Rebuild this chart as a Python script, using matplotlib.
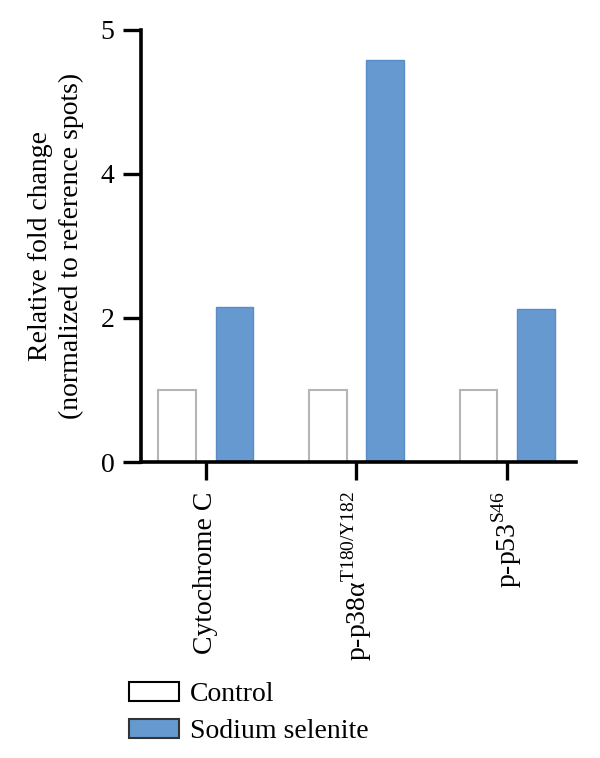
import matplotlib

matplotlib.use("Agg")
import matplotlib.pyplot as plt
import numpy as np
from matplotlib.patches import Patch

categories = ["Cytochrome C", r"p-p38α$^{\mathregular{T180/Y182}}$", r"p-p53$^{\mathregular{S46}}$"]
control = [1.0, 1.0, 1.0]
selenite = [2.15, 5.58, 2.12]
ytick_vals = [0, 2, 4, 6]
ytick_labels = ["0", "2", "4", "5"]

plt.rcParams["font.family"] = ["Liberation Serif", "DejaVu Serif"]
plt.rcParams["mathtext.fontset"] = "custom"
plt.rcParams["mathtext.rm"] = "Liberation Serif"

blue = "#6699cf"
fs = 20

fig = plt.figure(figsize=(6, 7.58), dpi=100)
ax = fig.add_axes([0.235, 0.3905, 0.725, 0.57])

x = np.arange(len(categories))
w = 0.25
off = 0.19
ax.bar(x - off, control, w, color="white", edgecolor="#b5b5b5", linewidth=1.5, zorder=2)
ax.bar(x + off, selenite, w, color=blue, edgecolor="#5a8cc8", linewidth=1.0, zorder=2)

ax.set_xlim(-0.43, 2.457)
ax.set_ylim(0, 6)
ax.set_yticks(ytick_vals)
ax.set_yticklabels(ytick_labels)
ax.set_xticks(x)
ax.set_xticklabels(categories, rotation=90, va="top", ha="center")

for s in ["top", "right"]:
    ax.spines[s].set_visible(False)
for s in ["left", "bottom"]:
    ax.spines[s].set_linewidth(2.6)
    ax.spines[s].set_zorder(3)
ax.tick_params(axis="both", labelsize=fs, width=2.4, length=13, direction="out")
ax.tick_params(axis="x", pad=8)
ax.tick_params(axis="y", pad=6)

ax.set_ylabel("Relative fold change\n(normalized to reference spots)", fontsize=fs, labelpad=12, linespacing=1.3)

handles = [
    Patch(facecolor="white", edgecolor="black", linewidth=1.5, label="Control"),
    Patch(facecolor=blue, edgecolor="#333333", linewidth=1.5, label="Sodium selenite"),
]
fig.legend(handles=handles, loc="upper left", bbox_to_anchor=(0.215, 0.1), frameon=False,
           fontsize=fs, handlelength=1.8, handleheight=0.68, handletextpad=0.4,
           labelspacing=0.4, borderpad=0, borderaxespad=0)

fig.savefig("out.png", dpi=100)
plt.close(fig)
